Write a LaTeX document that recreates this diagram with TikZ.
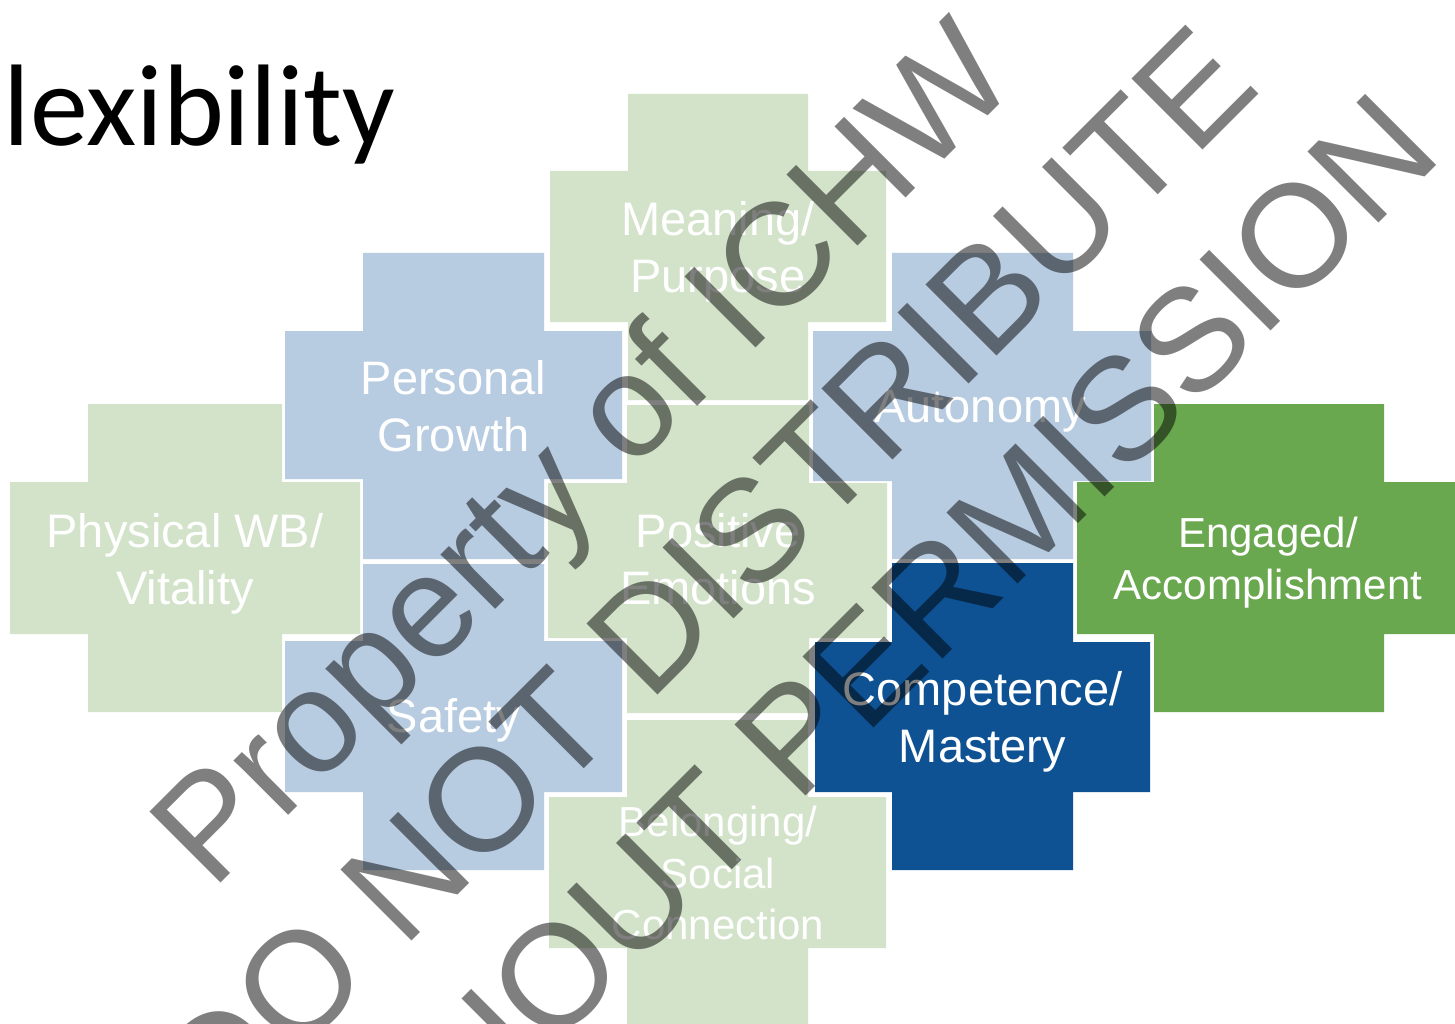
\documentclass[tikz,border=0pt]{standalone}
\usepackage{fontspec}
\setmainfont{Liberation Sans}
\newfontfamily\titlefont{Carlito}
\definecolor{lgreen}{RGB}{211,227,202}
\definecolor{lblue}{RGB}{183,203,225}
\definecolor{dblue}{RGB}{14,82,148}
\definecolor{mgreen}{RGB}{106,168,79}
% #1 vl, #2 vr, #3 vt, #4 vb, #5 hl, #6 hr, #7 ht, #8 hb, #9 colour
\newcommand\plusshape[9]{%
  \fill[#9] (#1,#3) -- (#2,#3) -- (#2,#7) -- (#6,#7) -- (#6,#8) -- (#2,#8) -- (#2,#4)
    -- (#1,#4) -- (#1,#8) -- (#5,#8) -- (#5,#7) -- (#1,#7) -- cycle;}
\tikzset{
  lbl/.style={text=white, align=center, inner sep=0pt, font=\fontsize{47}{57}\selectfont},
  lblsmall/.style={lbl, font=\fontsize{42}{51.5}\selectfont},
  wmark/.style={text=black, text opacity=0.5, rotate=45, anchor=base, inner sep=0pt,
    font=\fontsize{146}{176}\selectfont},
  titlestyle/.style={anchor=base west, inner sep=0pt, text=black,
    font=\titlefont\fontsize{116}{140}\selectfont}
}
\begin{document}
\begin{tikzpicture}[x=1pt,y=-1pt]
\useasboundingbox (0,0) rectangle (1455,1024);
\fill[white] (0,0) rectangle (1455,1024);
\clip (0,0) rectangle (1455,1024);

% title
\node[titlestyle] (title) at (3.5,146) {lexibility};

% crosses
\plusshape{628}{808}{94}{400}{550}{886}{171}{322}{lgreen}      % Meaning
\plusshape{363}{544}{253}{559}{285}{622}{331}{479}{lblue}      % Personal Growth
\plusshape{88}{282}{404}{712}{10}{360}{482}{634}{lgreen}       % Physical
\plusshape{627}{809}{405}{713}{548}{887}{483}{638}{lgreen}     % Positive
\plusshape{363}{544}{564}{870}{285}{622}{641}{792}{lblue}      % Safety
\plusshape{627}{808}{720}{1030}{549}{886}{797}{948}{lgreen}    % Belonging
\plusshape{892}{1073}{253}{559}{813}{1151}{331}{481}{lblue}    % Autonomy
\plusshape{892}{1073}{563}{870}{815}{1150}{642}{792}{dblue}    % Competence
\plusshape{1154}{1384}{404}{712}{1077}{1465}{482}{634}{mgreen} % Engaged

% labels
\node[lbl] (meaning) at (718,251.5) {Meaning/\\Purpose};
\node[lbl] (growth) at (453.5,406.5) {Personal\\Growth};
\node[lbl] (physical) at (185,563.5) {Physical WB/\\Vitality};
\node[lbl] (safety) at (453.5,720.5) {Safety};
\node[lbl] (positive) at (718,559.5) {Positive\\Emotions};
\node[lblsmall] (belonging) at (718,873) {Belonging/\\Social\\Connection};
\node[lbl] (autonomy) at (980,411) {Autonomy};
\node[lbl] (competence) at (982.5,721.5) {Competence/\\Mastery};
\node[lblsmall] (engaged) at (1268,562.5) {Engaged/\\Accomplishment};

% watermark
\node[wmark] (wm1) at (617,487) {Property of ICHW};
\node[wmark] (wm2) at (741.5,611.4) {DO NOT DISTRIBUTE};
\node[wmark] (wm3) at (866.1,736) {WITHOUT PERMISSION};
\end{tikzpicture}
\end{document}
